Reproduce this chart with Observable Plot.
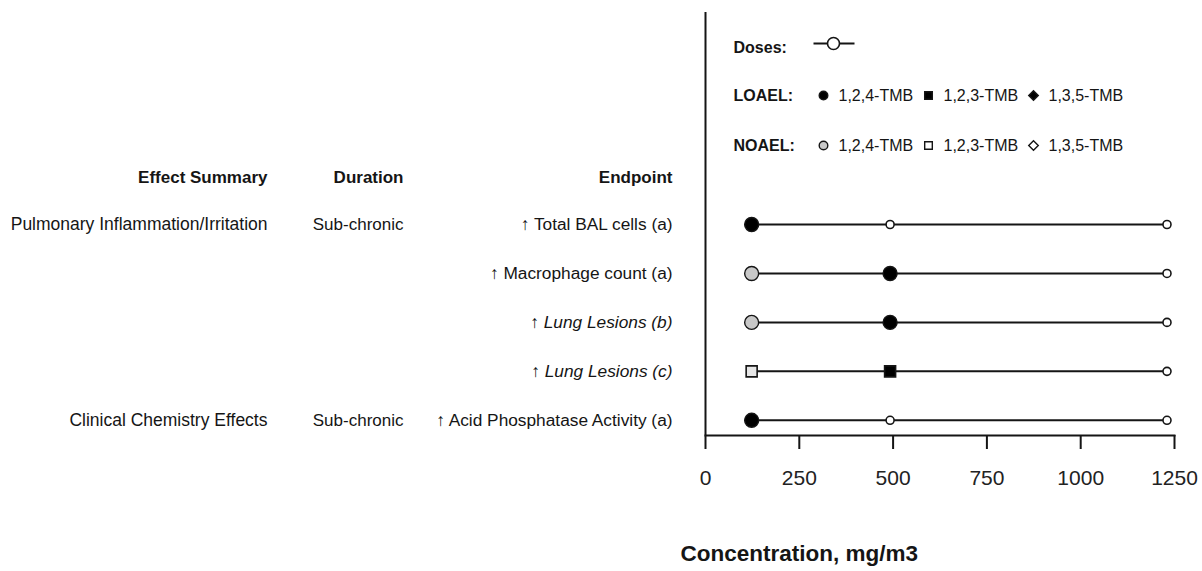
<!DOCTYPE html>
<html>
<head>
<meta charset="utf-8">
<script src="https://cdn.jsdelivr.net/npm/d3@7"></script>
<script src="https://cdn.jsdelivr.net/npm/@observablehq/plot@0.6"></script>
<style>
  html, body { margin: 0; padding: 0; background: #fff; }
  #wrap { position: relative; width: 1202px; height: 571px; }
  #wrap svg { position: absolute; left: 0; top: 0; }
</style>
</head>
<body>
<div id="wrap"></div>
<script>
// ---- data ----
const endpoints = [
  "↑ Total BAL cells (a)",
  "↑ Macrophage count (a)",
  "↑ Lung Lesions (b)",
  "↑ Lung Lesions (c)",
  "↑ Acid Phosphatase Activity (a)"
];
const italicRows = [false, false, true, true, false];
const effects = ["Pulmonary Inflammation/Irritation", "", "", "", "Clinical Chemistry Effects"];
const durations = ["Sub-chronic", "", "", "", "Sub-chronic"];
const doses = [123, 492, 1230];
const status = [
  ["LOAEL", "dose", "dose"],
  ["NOAEL", "LOAEL", "dose"],
  ["NOAEL", "LOAEL", "dose"],
  ["NOAEL", "LOAEL", "dose"],
  ["LOAEL", "dose", "dose"]
];
const chemicals = ["1,2,4-TMB", "1,2,4-TMB", "1,2,4-TMB", "1,2,3-TMB", "1,2,4-TMB"];
const headers = ["Effect Summary", "Duration", "Endpoint"];
const tickValues = [0, 250, 500, 750, 1000, 1250];
const xLabel = "Concentration, mg/m3";
const legendChems = ["1,2,4-TMB", "1,2,3-TMB", "1,3,5-TMB"];
const legendRows = ["Doses:", "LOAEL:", "NOAEL:"];

// ---- derived tables ----
const symbolOf = {"1,2,4-TMB": "circle", "1,2,3-TMB": "square", "1,3,5-TMB": "diamond2"};
const rows = endpoints.map((e, i) => ({row: i, endpoint: e, italic: italicRows[i], effect: effects[i], duration: durations[i]}));
const points = [];
status.forEach((st, i) => st.forEach((s, j) => points.push({
  row: i, dose: doses[j], status: s, chem: chemicals[i], symbol: symbolOf[chemicals[i]],
  fill: s === "LOAEL" ? "#000" : s === "NOAEL" ? (chemicals[i] === "1,2,4-TMB" ? "#c8c8c8" : "#e6e6e6") : "#fff"
})));
const bigCircles = points.filter(d => d.status !== "dose" && d.symbol === "circle");
const bigSquares = points.filter(d => d.status !== "dose" && d.symbol === "square");
const smallDots = points.filter(d => d.status === "dose");

const font = "'Liberation Sans', Arial, Helvetica, sans-serif";
const ink = "#151515";

// column offsets from the frame's left edge
const colDx = [-438, -302, -33];

const main = Plot.plot({
  width: 1202, height: 571,
  marginLeft: 705, marginRight: 28, marginTop: 12, marginBottom: 136,
  x: {domain: [0, 1250]},
  y: {domain: [-4.33, 4.31], reverse: true, axis: null},
  style: {fontFamily: font, fontSize: "17px", color: ink, background: "transparent"},
  marks: [
    Plot.ruleX([0], {stroke: ink, strokeWidth: 2}),
    Plot.frame({anchor: "bottom", stroke: ink, strokeWidth: 2}),
    Plot.axisX({ticks: tickValues, tickFormat: d3.format("d"), tickSize: 14, tickPadding: 21,
      fontSize: 21, label: null, strokeWidth: 2, stroke: ink, fill: "#222"}),
    // header row
    ...headers.map((h, k) => Plot.text([h], {frameAnchor: "top-left", dx: colDx[k], dy: 158,
      textAnchor: "end", fontWeight: "bold", fontSize: 17, fill: ink})),
    // row labels
    Plot.text(rows, {y: "row", text: "effect", frameAnchor: "left", dx: colDx[0], textAnchor: "end", fontSize: 17.5, fill: ink}),
    Plot.text(rows, {y: "row", text: "duration", frameAnchor: "left", dx: colDx[1], textAnchor: "end", fill: ink}),
    Plot.text(rows.filter(d => !d.italic), {y: "row", text: "endpoint", frameAnchor: "left", dx: colDx[2], textAnchor: "end", fontSize: 17.3, fill: ink}),
    Plot.text(rows.filter(d => d.italic), {y: "row", text: "endpoint", frameAnchor: "left", dx: colDx[2], textAnchor: "end", fontSize: 17.3, fontStyle: "italic", fill: ink}),
    // dose lines
    Plot.line(points, {x: "dose", y: "row", z: "row", stroke: ink, strokeWidth: 2}),
    Plot.dot(smallDots, {x: "dose", y: "row", r: 4, fill: "#fff", stroke: ink, strokeWidth: 1.6}),
    Plot.dot(bigCircles, {x: "dose", y: "row", r: 7, symbol: "symbol", fill: "fill", stroke: ink, strokeWidth: 1.4}),
    Plot.dot(bigSquares, {x: "dose", y: "row", r: 6.2, symbol: "symbol", fill: "fill", stroke: ink, strokeWidth: 1.6}),
    // x label
    Plot.text([xLabel], {frameAnchor: "bottom-left", dx: -25, dy: 125, textAnchor: "start",
      fontWeight: "bold", fontSize: 22.5, fill: ink})
  ]
});

// legend overlay (layout in pixels)
const lx = 733, ly = [47, 95, 145], symX0 = 823, step = 105;
const legendItems = [];
legendChems.forEach((c, k) => {
  legendItems.push({x: symX0 + k * step, y: ly[1], symbol: symbolOf[c], fill: "#000", label: c});
  legendItems.push({x: symX0 + k * step, y: ly[2], symbol: symbolOf[c], fill: k === 0 ? "#c8c8c8" : "#fff", label: c});
});
const legend = Plot.plot({
  width: 1202, height: 171, margin: 0,
  x: {type: "identity", axis: null}, y: {type: "identity", axis: null},
  style: {fontFamily: font, fontSize: "16px", color: ink, background: "transparent"},
  marks: [
    Plot.text(legendRows, {x: lx, y: (d, i) => ly[i], text: d => d, textAnchor: "start", fontWeight: "bold", fill: ink}),
    Plot.link([0], {x1: 813, x2: 854, y1: 43, y2: 43, stroke: ink, strokeWidth: 2}),
    Plot.dot([0], {x: 833, y: 43, r: 6, fill: "#fff", stroke: ink, strokeWidth: 1.6}),
    Plot.dot(legendItems, {x: "x", y: "y", symbol: "symbol", fill: "fill", r: 4.3, stroke: ink, strokeWidth: 1.4}),
    Plot.text(legendItems, {x: d => d.x + 15, y: "y", text: "label", textAnchor: "start", fill: ink})
  ]
});

const wrap = document.getElementById("wrap");
wrap.appendChild(main);
wrap.appendChild(legend);
</script>
</body>
</html>
